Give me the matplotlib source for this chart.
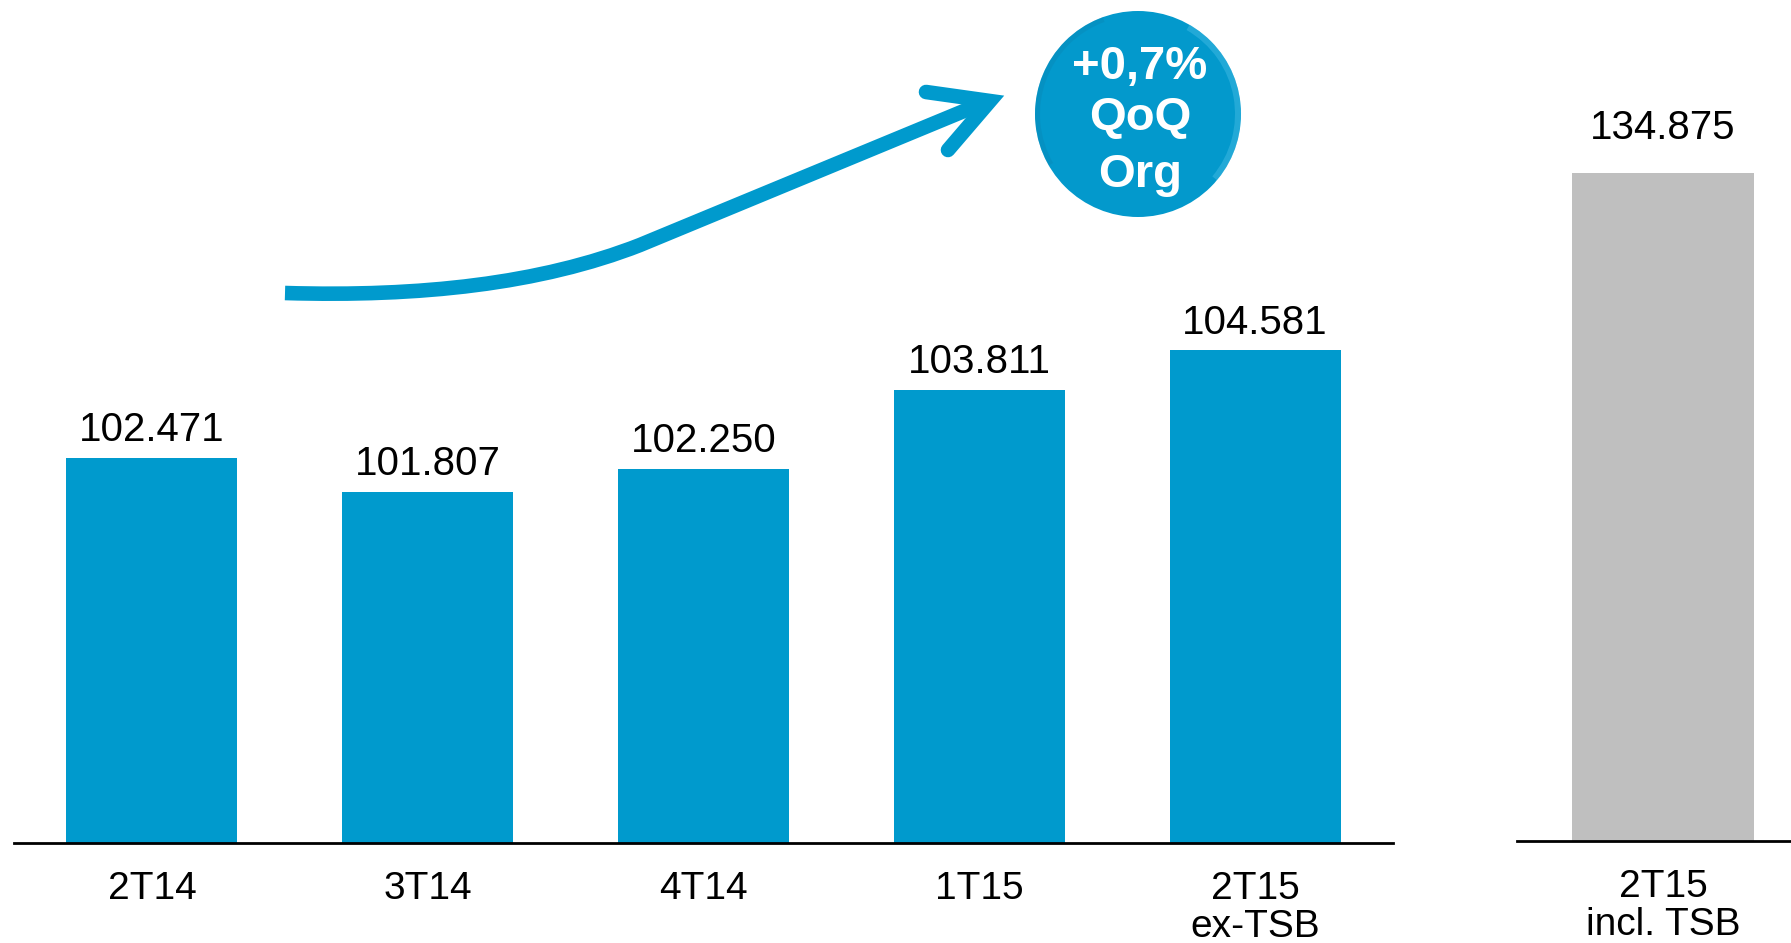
import matplotlib
matplotlib.use("Agg")
import matplotlib.pyplot as plt
from matplotlib.patches import Circle, Wedge, PathPatch
from matplotlib.path import Path

# ---- data ----
quarters = ["2T14", "3T14", "4T14", "1T15", "2T15\nex-TSB"]
values = [102.471, 101.807, 102.250, 103.811, 104.581]
value_labels = ["102.471", "101.807", "102.250", "103.811", "104.581"]

tsb_category = ["2T15\nincl. TSB"]
tsb_values = [134.875]
tsb_labels = ["134.875"]

badge_lines = ["+0,7%", "QoQ", "Org"]

# ---- style ----
BLUE = "#009ACD"
GREY = "#BFBFBF"
W, H = 1791, 943
DPI = 100

plt.rcParams["font.family"] = ["Liberation Sans", "DejaVu Sans"]

fig = plt.figure(figsize=(W / DPI, H / DPI), dpi=DPI)
fig.patch.set_facecolor("white")


def px_rect(x0, x1, y_base, y_top=0):
    """Axes rectangle from pixel coordinates (y measured from the top)."""
    return [x0 / W, (H - y_base) / H, (x1 - x0) / W, (y_base - y_top) / H]


def style_axes(ax):
    for side in ("left", "right", "top"):
        ax.spines[side].set_visible(False)
    ax.spines["bottom"].set_linewidth(2.0)
    ax.spines["bottom"].set_color("black")
    ax.set_yticks([])
    ax.tick_params(axis="x", length=0, pad=20)
    ax.set_facecolor("none")


# ---- left panel: quarterly bars on a truncated axis ----
ax = fig.add_axes(px_rect(14, 1393, 843))
x = list(range(len(quarters)))
ax.bar(x, values, width=0.62, color=BLUE)
ax.set_xlim(-0.5, len(quarters) - 0.5)
ax.set_ylim(94.9, 111.47)
style_axes(ax)
ax.set_xticks(x)
ax.set_xticklabels(quarters, fontsize=28, linespacing=1.07, va="top")
for xi, v, lab in zip(x, values, value_labels):
    ax.annotate(lab, (xi, v), xytext=(0, 12), textcoords="offset points",
                ha="center", va="baseline", fontsize=29, color="black")

# ---- right panel: total including TSB ----
ax2 = fig.add_axes(px_rect(1517, 1809, 841))
x2 = list(range(len(tsb_category)))
ax2.bar(x2, tsb_values, width=0.625, color=GREY)
ax2.set_xlim(-0.5, 0.5)
ax2.set_ylim(0, 169.7)
style_axes(ax2)
ax2.set_xticks(x2)
ax2.set_xticklabels(tsb_category, fontsize=28, linespacing=1.07, va="top")
for xi, v, lab in zip(x2, tsb_values, tsb_labels):
    ax2.annotate(lab, (xi, v), xytext=(0, 24), textcoords="offset points",
                 ha="center", va="baseline", fontsize=29, color="black")

# ---- overlay in pixel units: growth arrow and badge ----
ov = fig.add_axes([0, 0, 1, 1])
ov.set_xlim(0, W)
ov.set_ylim(H, 0)
ov.axis("off")
ov.set_facecolor("none")

shaft = Path(
    [(285, 293), (420, 297), (540, 284), (640, 245), (976, 106)],
    [Path.MOVETO, Path.CURVE4, Path.CURVE4, Path.CURVE4, Path.LINETO],
)
ov.add_patch(PathPatch(shaft, fill=False, edgecolor=BLUE, lw=10.5,
                       capstyle="butt", joinstyle="round"))
ov.plot([926, 990, 948], [92, 101, 150], color=BLUE, lw=10.5,
        solid_capstyle="round", solid_joinstyle="miter")

cx, cy, r = 1138, 114, 103
ov.add_patch(Circle((cx, cy), r, facecolor="#0399CC", edgecolor="none"))
# soft rim highlight on the upper right and slight shade on the lower left
ov.add_patch(Wedge((cx, cy), r, -60, 40, width=6, facecolor="#5CC8EE",
                   edgecolor="none", alpha=0.35))
ov.add_patch(Wedge((cx, cy), r, 150, 250, width=5, facecolor="#0A86B4",
                   edgecolor="none", alpha=0.4))

for text, yb in zip(badge_lines, [79, 130, 187]):
    ov.text(cx + 2, yb, text, ha="center", va="baseline", fontsize=34,
            fontweight="bold", color="white")

fig.savefig("out.png", dpi=DPI, facecolor="white")
